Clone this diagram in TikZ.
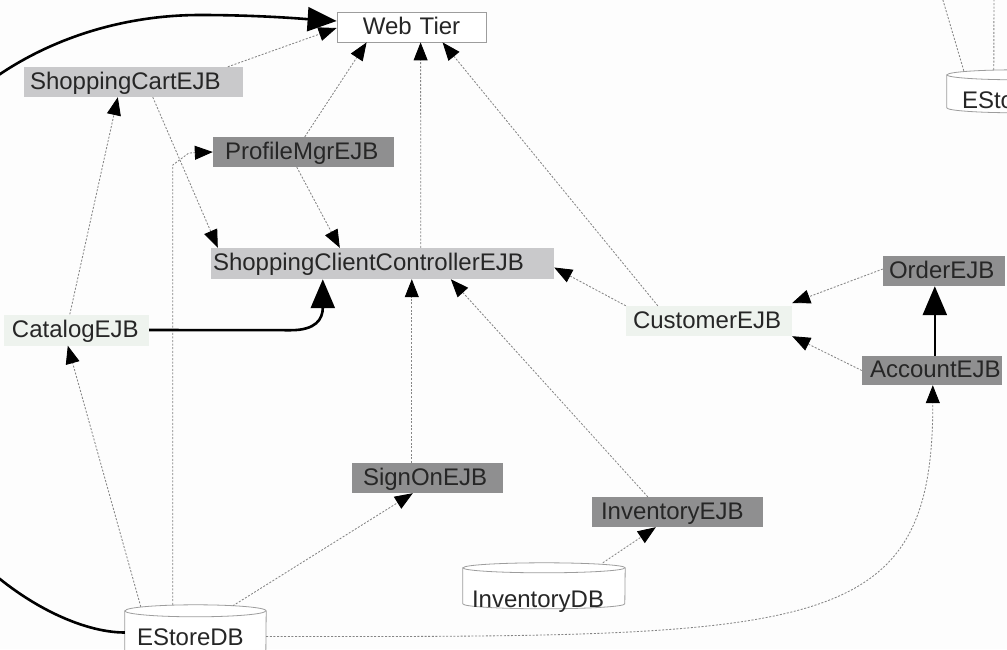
\documentclass[tikz,border=0pt]{standalone}
\usepackage{fontspec}
\setmainfont{Liberation Sans}
\usetikzlibrary{arrows.meta,calc}
\definecolor{pagebg}{HTML}{FDFDFD}
\definecolor{lightbox}{HTML}{C9C9CB}
\definecolor{darkbox}{HTML}{8F8F90}
\definecolor{palebox}{HTML}{EEF3EE}
\definecolor{depline}{HTML}{858585}
\definecolor{ink}{HTML}{262626}
\pgfdeclarelayer{background}
\pgfsetlayers{background,main}

\begin{document}
\begin{tikzpicture}[x=1pt,y=-1pt,
  lbl/.style={inner xsep=0pt, inner ysep=0pt, text height=17pt, text depth=3pt,
    text=ink, font=\fontsize{24}{28}\selectfont},
  box/.style n args={4}{lbl, minimum width=#1pt, minimum height=#2pt,
    inner xsep=#3pt, text width=#4pt, align=left},
  dep/.style={draw=depline, line width=0.85pt, dash pattern=on 2pt off 1.6pt,
    -{Triangle[length=18pt,width=14pt,color=black]}},
  depplain/.style={draw=depline, line width=0.85pt, dash pattern=on 2pt off 1.6pt},
  strong/.style={draw=black, line width=2.6pt, -{Triangle[length=29pt,width=24pt]}},
  dbline/.style={draw=depline!80, line width=0.8pt}]

\useasboundingbox (0,0) rectangle (1007,649);
\clip (0,0) rectangle (1007,649);

% components
\node[box={149}{30}{0}{149}, align=center, draw=depline!80, line width=0.8pt, fill=white]
  (web) at (411.5,27) {Web Tier};
\node[box={219}{30}{6}{207}, fill=lightbox] (cart) at (133.5,82) {ShoppingCartEJB};
\node[box={181}{30}{12}{157}, fill=darkbox] (profile) at (303.5,152) {ProfileMgrEJB};
\node[box={343}{31}{2}{339}, fill=lightbox] (scc) at (382.5,263.5) {ShoppingClientControllerEJB};
\node[box={145}{31}{8}{129}, fill=palebox] (catalog) at (76.5,330) {CatalogEJB};
\node[box={166}{30}{7}{152}, fill=palebox] (customer) at (709,321) {CustomerEJB};
\node[box={122}{30}{6}{110}, fill=darkbox] (order) at (944,271) {OrderEJB};
\node[box={140}{29}{8}{124}, fill=darkbox] (account) at (932,370.5) {AccountEJB};
\node[box={151}{30}{11}{129}, fill=darkbox] (signon) at (427.5,478) {SignOnEJB};
\node[box={171}{30}{9}{153}, fill=darkbox] (inventory) at (677.5,512) {InventoryEJB};

% databases
\node[box={141}{55}{12}{117}, text height=28pt] (estore) at (195.5,632.5) {EStoreDB};
\node[box={162}{50}{9}{144}, text height=41pt] (invdb) at (544,588) {InventoryDB};
\node[box={141}{48}{15}{111}, text height=31pt] (estoreb) at (1017.5,94) {EStoreDB};

\begin{pgfonlayer}{background}
  \fill[pagebg] (0,0) rectangle (1007,649);
  % EStoreDB cylinder
  \filldraw[dbline, fill=white] ($(estore.north west)+(0,6)$) -- ($(estore.north west)+(0,50)$)
    arc[start angle=180, end angle=360, x radius=70.5pt, y radius=6pt]
    -- ($(estore.north east)+(0,6)$)
    arc[start angle=0, end angle=180, x radius=70.5pt, y radius=6pt] -- cycle;
  \draw[dbline] ($(estore.north west)+(0,6)$) arc[start angle=180, end angle=360, x radius=70.5pt, y radius=6pt];
  % InventoryDB cylinder
  \filldraw[dbline, fill=white] ($(invdb.north west)+(0,5)$) -- ($(invdb.north west)+(0,41)$)
    arc[start angle=180, end angle=360, x radius=81pt, y radius=5pt]
    -- ($(invdb.north east)+(0,5)$)
    arc[start angle=0, end angle=180, x radius=81pt, y radius=5pt] -- cycle;
  \draw[dbline] ($(invdb.north west)+(0,5)$) arc[start angle=180, end angle=360, x radius=81pt, y radius=5pt];
  % second EStoreDB cylinder
  \filldraw[dbline, fill=white] ($(estoreb.north west)+(0,5)$) -- ($(estoreb.north west)+(0,38)$)
    arc[start angle=180, end angle=360, x radius=70.5pt, y radius=5pt]
    -- ($(estoreb.north east)+(0,5)$)
    arc[start angle=0, end angle=180, x radius=70.5pt, y radius=5pt] -- cycle;
  \draw[dbline] ($(estoreb.north west)+(0,5)$) arc[start angle=180, end angle=360, x radius=70.5pt, y radius=5pt];
\end{pgfonlayer}

% links leaving the picture upwards
\coordinate (upA) at (937,-20);
\coordinate (upB) at (994,-20);

% dependencies
\draw[strong] (estore.west) .. controls (40,632.5) and (-120,520) .. (-131,320)
  .. controls (-131,130) and (30,15) .. (200,15)
  .. controls (260,15) and (305,19) .. ($(web.west)+(0,-6)$);
\draw[dep] ($(cart.north west)+(204,0)$) -- ($(web.west)+(0,1)$);
\draw[dep] ($(profile.north west)+(92,0)$) -- ($(web.south west)+(30,0)$);
\draw[dep] ($(scc.north west)+(210,0)$) -- ($(web.south west)+(84,0)$);
\draw[dep] ($(customer.north west)+(32,0)$) -- ($(web.south west)+(106,0)$);
\draw[dep] ($(cart.south west)+(129,0)$) -- ($(scc.north west)+(7,0)$);
\draw[dep] ($(profile.south west)+(84,0)$) -- ($(scc.north west)+(129,0)$);
\draw[dep] ($(catalog.north west)+(66,0)$) -- ($(cart.south west)+(94,0)$);
\draw[dep] ($(estore.north west)+(16,2)$) -- ($(catalog.south west)+(64,0)$);
\draw[dep] ($(estore.north west)+(48,0)$) -- ($(profile.west)+(-40,13)$)
  -- ($(profile.west)+(-24,1)$) -- (profile.west);
\draw[strong] (catalog.east) -- ($(scc.south west)+(80,51)$)
  .. controls ($(scc.south west)+(105,51)$) and ($(scc.south west)+(112,40)$)
  .. ($(scc.south west)+(112,0)$);
\draw[dep] ($(signon.north west)+(60,0)$) -- ($(scc.south west)+(201,0)$);
\draw[dep] ($(inventory.north west)+(56,0)$) -- ($(scc.south west)+(240,0)$);
\draw[dep] (customer.north west) -- ($(scc.east)+(0,4)$);
\draw[dep] ($(order.west)+(0,-2)$) -- ($(customer.east)+(0,-18)$);
\draw[dep] (account.west) -- (customer.south east);
\draw[strong] ($(account.north west)+(73,0)$) -- ($(order.south west)+(52,0)$);
\draw[dep] ($(estore.east)+(0,4)$) .. controls (820,637) and (933,637)
  .. ($(account.south west)+(71,0)$);
\draw[dep] ($(estore.north west)+(108,1)$) -- ($(signon.south west)+(61,0)$);
\draw[dep] ($(invdb.north west)+(140,0)$) -- ($(inventory.south west)+(64,0)$);
\draw[depplain] ($(estoreb.north west)+(17,1)$) -- (upA);
\draw[depplain] ($(estoreb.north west)+(47,0)$) -- (upB);

\end{tikzpicture}
\end{document}
